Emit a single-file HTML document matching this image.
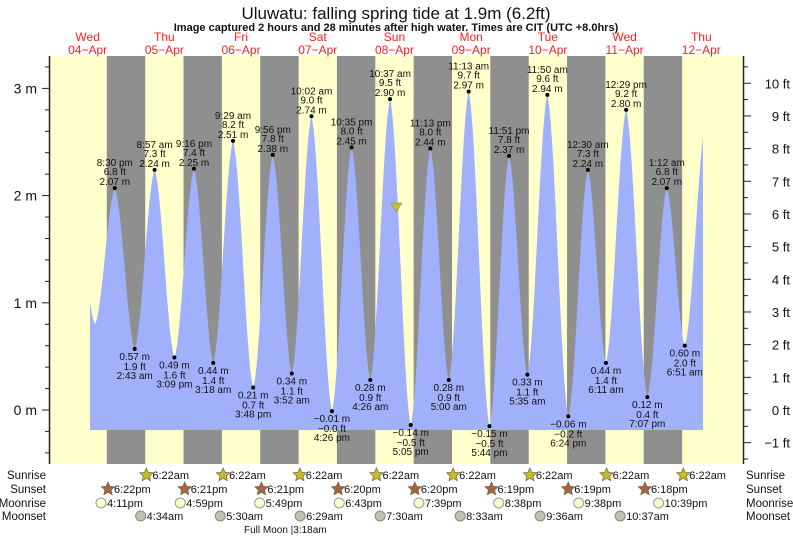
<!DOCTYPE html>
<html><head><meta charset="utf-8"><style>
html,body{margin:0;padding:0;background:#fff;}
svg{display:block;font-family:"Liberation Sans",sans-serif;}
</style></head><body>
<svg id="s" width="793" height="537" xmlns="http://www.w3.org/2000/svg"></svg>
<script>
var s=document.getElementById('s');var o='';
function X(t){return 49.3+t*3.196;}
function Y(h){return 410-h*107.2;}
var T=56,B=464,L=50,R=743;
o+='<rect x="'+L+'" y="'+T+'" width="'+(R-L)+'" height="'+(B-T)+'" fill="#ffffcc"/>';
for(var k=1;k<=8;k++){var m=X(24*k);o+='<rect x="'+(m-19.2)+'" y="'+T+'" width="38.4" height="'+(B-T)+'" fill="#8f8f8f"/>';}
var ev=[[8.1,2.0],[14.3,0.8],[20.5,2.07],[26.72,0.57],[32.95,2.24],[39.15,0.49],[45.27,2.25],[51.3,0.44],[57.48,2.51],[63.8,0.21],[69.93,2.38],[75.87,0.34],[82.03,2.74],[88.43,-0.01],[94.58,2.45],[100.43,0.28],[106.62,2.90],[113.08,-0.14],[119.22,2.44],[125,0.28],[131.22,2.97],[137.73,-0.15],[143.85,2.37],[149.58,0.33],[155.83,2.94],[162.4,-0.06],[168.5,2.24],[174.18,0.44],[180.48,2.80],[187.12,0.12],[193.2,2.07],[198.85,0.60],[205.5,2.7]];
function H(t){for(var i=0;i<ev.length-1;i++){if(t>=ev[i][0]&&t<=ev[i+1][0]){var f=(t-ev[i][0])/(ev[i+1][0]-ev[i][0]);var g=0.75*(1-Math.cos(Math.PI*f))/2+0.25*f;return ev[i][1]+(ev[i+1][1]-ev[i][1])*g;}}return 1;}
var t0=(90-49.3)/3.196,t1=(703-49.3)/3.196;
var p='M90,430';for(var t=t0;t<=t1;t+=0.05){p+=' L'+X(t).toFixed(1)+','+Y(H(t)).toFixed(1);}
p+=' L703,'+Y(H(t1)).toFixed(1)+' L703,430 Z';
o+='<path d="'+p+'" fill="#a0b0fb"/>';
var lab=[[20.5,2.07,'8:30 pm','6.8 ft','2.07 m'],[26.72,0.57,'2:43 am','1.9 ft','0.57 m'],[32.95,2.24,'8:57 am','7.3 ft','2.24 m'],[39.15,0.49,'3:09 pm','1.6 ft','0.49 m'],[45.27,2.25,'9:16 pm','7.4 ft','2.25 m'],[51.3,0.44,'3:18 am','1.4 ft','0.44 m'],[57.48,2.51,'9:29 am','8.2 ft','2.51 m'],[63.8,0.21,'3:48 pm','0.7 ft','0.21 m'],[69.93,2.38,'9:56 pm','7.8 ft','2.38 m'],[75.87,0.34,'3:52 am','1.1 ft','0.34 m'],[82.03,2.74,'10:02 am','9.0 ft','2.74 m'],[88.43,-0.01,'4:26 pm','\u22120.0 ft','\u22120.01 m'],[94.58,2.45,'10:35 pm','8.0 ft','2.45 m'],[100.43,0.28,'4:26 am','0.9 ft','0.28 m'],[106.62,2.90,'10:37 am','9.5 ft','2.90 m'],[113.08,-0.14,'5:05 pm','\u22120.5 ft','\u22120.14 m'],[119.22,2.44,'11:13 pm','8.0 ft','2.44 m'],[125,0.28,'5:00 am','0.9 ft','0.28 m'],[131.22,2.97,'11:13 am','9.7 ft','2.97 m'],[137.73,-0.15,'5:44 pm','\u22120.5 ft','\u22120.15 m'],[143.85,2.37,'11:51 pm','7.8 ft','2.37 m'],[149.58,0.33,'5:35 am','1.1 ft','0.33 m'],[155.83,2.94,'11:50 am','9.6 ft','2.94 m'],[162.4,-0.06,'6:24 pm','\u22120.2 ft','\u22120.06 m'],[168.5,2.24,'12:30 am','7.3 ft','2.24 m'],[174.18,0.44,'6:11 am','1.4 ft','0.44 m'],[180.48,2.80,'12:29 pm','9.2 ft','2.80 m'],[187.12,0.12,'7:07 pm','0.4 ft','0.12 m'],[193.2,2.07,'1:12 am','6.8 ft','2.07 m'],[198.85,0.60,'6:51 am','2.0 ft','0.60 m']];
lab.forEach(function(a,i){var x=X(a[0]),y=Y(a[1]);o+='<circle cx="'+x+'" cy="'+y+'" r="2" fill="#000"/>';
var st='font-size="10" fill="#111" text-anchor="middle"';
if(a[1]>1.5){o+='<text x="'+x+'" y="'+(y-22)+'" '+st+'>'+a[2]+'</text><text x="'+x+'" y="'+(y-13)+'" '+st+'>'+a[3]+'</text><text x="'+x+'" y="'+(y-3)+'" '+st+'>'+a[4]+'</text>';}
else{o+='<text x="'+x+'" y="'+(y+11)+'" '+st+'>'+a[4]+'</text><text x="'+x+'" y="'+(y+21)+'" '+st+'>'+a[3]+'</text><text x="'+x+'" y="'+(y+30)+'" '+st+'>'+a[2]+'</text>';}});
o+='<polygon points="391,203 402,203 396.5,212" fill="#c8c020" stroke="#777" stroke-width="0.5"/>';
o+='<line x1="49.5" y1="'+T+'" x2="49.5" y2="'+B+'" stroke="#222" stroke-width="1.5"/><line x1="743.5" y1="'+T+'" x2="743.5" y2="'+B+'" stroke="#222" stroke-width="1.5"/>';
for(var h=-0.4;h<=3.3;h+=0.2){var y=Y(h);var maj=Math.abs(h-Math.round(h))<0.01;o+='<line x1="'+(maj?42:45)+'" y1="'+y+'" x2="49" y2="'+y+'" stroke="#222"/>';if(maj)o+='<text x="37" y="'+(y+5)+'" font-size="14" fill="#111" text-anchor="end">'+Math.round(h)+' m</text>';}
for(var f=-1.5;f<=10.5;f+=0.5){var y=Y(f*0.3048);var maj=Math.abs(f-Math.round(f))<0.01;o+='<line x1="744" y1="'+y+'" x2="'+(maj?751:748)+'" y2="'+y+'" stroke="#222"/>';if(maj)o+='<text x="790" y="'+(y+5)+'" font-size="13" fill="#111" text-anchor="end">'+(f<0?'\u2212':'')+Math.abs(Math.round(f))+' ft</text>';}
o+='<text x="396" y="19" font-size="17" fill="#111" text-anchor="middle">Uluwatu: falling  spring tide at 1.9m (6.2ft)</text>';
o+='<text x="396" y="31" font-size="11" font-weight="bold" fill="#111" text-anchor="middle">Image captured 2 hours and 28 minutes after high water. Times are CIT (UTC +8.0hrs)</text>';
var days=['Wed','Thu','Fri','Sat','Sun','Mon','Tue','Wed','Thu'];
for(var k=0;k<9;k++){var x=X(12+24*k);o+='<text x="'+x+'" y="41" font-size="12" fill="#ff2020" text-anchor="middle">'+days[k]+'</text><text x="'+x+'" y="54" font-size="12" fill="#ff2020" text-anchor="middle">'+(k<6?'0'+(4+k):(4+k))+'\u2212Apr</text>';}
var rows=['Sunrise','Sunset','Moonrise','Moonset'],ry=[479,493,507,520];
for(var i=0;i<4;i++){o+='<text x="46" y="'+ry[i]+'" font-size="11.5" fill="#111" text-anchor="end">'+rows[i]+'</text><text x="746" y="'+ry[i]+'" font-size="11.5" fill="#111">'+rows[i]+'</text>';}
function star(x,y,c){var pts='';for(var j=0;j<10;j++){var r=j%2?3.3:7,a=-Math.PI/2+j*Math.PI/5;pts+=(x+r*Math.cos(a)).toFixed(1)+','+(y+r*Math.sin(a)).toFixed(1)+' ';}return '<polygon points="'+pts+'" fill="'+c+'" stroke="#665" stroke-width="0.7"/>';}
var ss=['6:22pm','6:21pm','6:21pm','6:20pm','6:20pm','6:19pm','6:19pm','6:18pm'];
var mr=[[16.18,'4:11pm'],[40.98,'4:59pm'],[65.82,'5:49pm'],[90.72,'6:43pm'],[115.65,'7:39pm'],[140.63,'8:38pm'],[165.63,'9:38pm'],[190.65,'10:39pm']];
var ms=[[28.57,'4:34am'],[53.5,'5:30am'],[78.48,'6:29am'],[103.5,'7:30am'],[128.55,'8:33am'],[153.6,'9:36am'],[178.62,'10:37am']];
for(var k=0;k<8;k++){var x=X(30.37+24*k);o+=star(x,475,'#c8bb28')+'<text x="'+(x+6)+'" y="479" font-size="11" fill="#111">6:22am</text>';
x=X(18.37+24*k);o+=star(x,489,'#a8653a')+'<text x="'+(x+6)+'" y="493" font-size="11" fill="#111">'+ss[k]+'</text>';
x=X(mr[k][0]);o+='<circle cx="'+x+'" cy="503" r="5" fill="#ffffcc" stroke="#999"/><text x="'+(x+6)+'" y="507" font-size="11" fill="#111">'+mr[k][1]+'</text>';}
for(var k=0;k<7;k++){var x=X(ms[k][0]);o+='<circle cx="'+x+'" cy="516" r="5" fill="#c0c0b0" stroke="#888"/><text x="'+(x+6)+'" y="520" font-size="11" fill="#111">'+ms[k][1]+'</text>';}
o+='<text x="244" y="533" font-size="10" fill="#111">Full Moon |3:18am</text>';
s.innerHTML=o;
</script>
</body></html>
